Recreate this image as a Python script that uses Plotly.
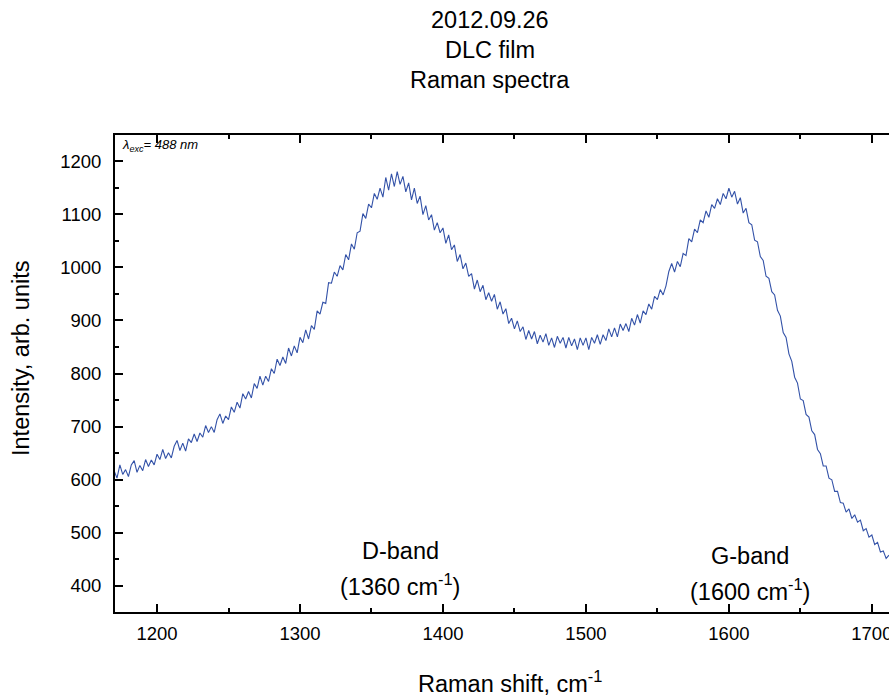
import plotly.graph_objects as go

# Raman spectrum intensities (arb. units), sampled every 2 cm^-1 starting at 1170 cm^-1
intensity = [
    617, 603, 628, 610, 619, 606, 628, 636, 614, 627,
    617, 638, 625, 637, 628, 648, 638, 657, 640, 651,
    641, 663, 674, 655, 669, 654, 677, 670, 686, 672,
    688, 680, 702, 689, 700, 689, 713, 724, 706, 720,
    713, 737, 727, 746, 735, 762, 752, 766, 754, 781,
    772, 795, 778, 795, 785, 809, 800, 827, 815, 831,
    819,
    848, 833, 852, 839, 868, 858, 882, 865, 890, 883,
    918, 912, 934, 932, 971, 970, 991, 983, 1003, 995,
    1024, 1014, 1044, 1034, 1065, 1068, 1101, 1092, 1119, 1112,
    1139, 1128, 1149, 1132, 1169, 1145, 1176, 1152, 1180, 1156,
    1171, 1142, 1159, 1127, 1149, 1120, 1134, 1099, 1116, 1089,
    1099, 1070, 1084, 1065, 1074, 1045, 1061, 1033, 1042, 1011,
    1024, 997, 1008, 983, 988, 959, 976, 954, 966, 939,
    952, 936, 949, 921, 935, 912, 922, 894, 904, 884,
    899, 879, 888, 864, 881, 865, 879, 856, 872, 859,
    875, 853, 867, 849, 870, 857, 868, 848, 868, 852,
    865, 845, 867, 853, 867, 845, 868, 857, 873, 855,
    873, 862, 884, 869, 886, 869, 893, 881, 894, 879,
    904, 891, 911, 895, 918, 911, 931, 921, 945, 939,
    958, 948, 965,
    992, 1007, 991, 1011, 1001, 1026, 1022, 1054, 1048, 1072,
    1065, 1089, 1084, 1106, 1094, 1118, 1111, 1129, 1118, 1139,
    1129, 1149, 1132, 1143, 1119, 1131, 1102, 1111, 1084,
    1080, 1051, 1048, 1020, 1013, 983, 979, 954, 948, 919,
    908, 877, 868, 837, 823, 793, 782, 752, 749, 723,
    718, 692, 685, 657, 649, 626, 626, 603, 600, 578,
    578, 557, 556, 539, 545, 527, 534, 520, 524, 504,
    508, 492, 496, 478, 482, 464, 466, 452, 458,
]
raman_shift = list(range(1170, 1170 + 2 * len(intensity), 2))

title_lines = ["2012.09.26", "DLC film", "Raman spectra"]
x_title = "Raman shift, cm<sup>-1</sup>"
y_title = "Intensity, arb. units"
band_labels = [
    ("D-band", "(1360 cm<sup>-1</sup>)", 1370, 466, 402),
    ("G-band", "(1600 cm<sup>-1</sup>)", 1615, 456, 392),
]

FONT = "Liberation Sans, Arial, sans-serif"
BIG = 23.5
TICK = 18.5
W, H = 889, 695
L, R, T, B = 115, 0, 135, 83
pw, ph = W - L - R, H - T - B

fig = go.Figure()
fig.add_trace(go.Scatter(
    x=raman_shift, y=intensity, mode="lines",
    line=dict(color="#3352a8", width=1.1),
    showlegend=False,
))

ann = []
for i, t in enumerate(title_lines):
    ann.append(dict(text=t, xref="paper", yref="paper",
                    x=(490 - L) / pw, y=(H - B - (20 + 30 * i)) / ph,
                    xanchor="center", yanchor="middle", showarrow=False,
                    font=dict(size=BIG, family=FONT, color="black")))
ann.append(dict(text=x_title, xref="paper", yref="paper",
                x=(510 - L) / pw, y=(H - B - 682) / ph,
                xanchor="center", yanchor="middle", showarrow=False,
                font=dict(size=BIG, family=FONT, color="black")))
ann.append(dict(text=y_title, xref="paper", yref="paper",
                x=(21 - L) / pw, y=(H - B - 358) / ph, textangle=-90,
                xanchor="center", yanchor="middle", showarrow=False,
                font=dict(size=BIG, family=FONT, color="black")))
ann.append(dict(text="<i>λ<sub>exc</sub>= 488 nm</i>", xref="paper", yref="paper",
                x=(120 - L) / pw, y=(H - B - 146) / ph,
                xanchor="left", yanchor="middle", showarrow=False,
                font=dict(size=13, family=FONT, color="black")))
for name, pos, xd, y1, y2 in band_labels:
    ann.append(dict(text=name, x=xd, y=y1, xref="x", yref="y", showarrow=False,
                    xanchor="center", yanchor="middle",
                    font=dict(size=BIG, family=FONT, color="black")))
    ann.append(dict(text=pos, x=xd, y=y2, xref="x", yref="y", showarrow=False,
                    xanchor="center", yanchor="middle",
                    font=dict(size=BIG, family=FONT, color="black")))

fig.update_layout(
    width=W, height=H,
    margin=dict(l=L, r=R, t=T, b=B),
    paper_bgcolor="white", plot_bgcolor="white",
    font=dict(family=FONT, color="black"),
    annotations=ann,
    xaxis=dict(range=[1170.6, 1712], tickmode="linear", tick0=1200, dtick=100,
               automargin=False, ticklabeloverflow="allow",
               ticks="inside", ticklen=8, tickwidth=1.5, tickcolor="black",
               minor=dict(ticks="inside", ticklen=4, tickwidth=1.5, tickcolor="black", dtick=50),
               showline=True, linecolor="black", linewidth=2, mirror="allticks",
               showgrid=False, zeroline=False,
               tickfont=dict(size=TICK, family=FONT, color="black"), ticklabelstandoff=4),
    yaxis=dict(range=[351, 1249], tickmode="linear", tick0=400, dtick=100,
               automargin=False,
               ticks="inside", ticklen=8, tickwidth=1.5, tickcolor="black",
               minor=dict(ticks="inside", ticklen=4, tickwidth=1.5, tickcolor="black", dtick=50),
               showline=True, linecolor="black", linewidth=2,
               showgrid=False, zeroline=False,
               tickfont=dict(size=TICK, family=FONT, color="black"), ticklabelstandoff=8),
)

fig.write_html(
    "out.html",
    config={"displayModeBar": False},
    post_script="document.body.style.margin='0';document.body.style.overflow='hidden';",
)
